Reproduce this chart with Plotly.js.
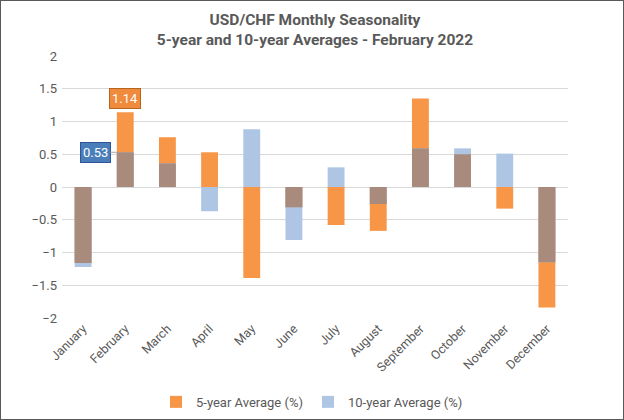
<!DOCTYPE html>
<html>
<head>
<meta charset="utf-8">
<script src="https://cdn.plot.ly/plotly-3.0.1.min.js"></script>
<style>
html,body{margin:0;padding:0;background:#fff;}
#wrap{width:624px;height:420px;box-sizing:border-box;border:1px solid #595959;overflow:hidden;}
#chart{width:622px;height:418px;}
</style>
</head>
<body>
<div id="wrap"><div id="chart"></div></div>
<script>
var months = ["January","February","March","April","May","June","July","August","September","October","November","December"];
var avg5 = [-1.16, 1.14, 0.76, 0.53, -1.39, -0.31, -0.58, -0.67, 1.35, 0.50, -0.33, -1.84];
var avg10 = [-1.22, 0.53, 0.36, -0.37, 0.88, -0.81, 0.30, -0.26, 0.59, 0.59, 0.51, -1.15];
var seriesNames = ["5-year Average (%)", "10-year Average (%)"];

var overlap = avg5.map(function(v, i){
  var w = avg10[i];
  if (v * w > 0) return Math.sign(v) * Math.min(Math.abs(v), Math.abs(w));
  return null;
});

var font = "Roboto, 'Liberation Sans', sans-serif";
var grey = "#595959";

var traces = [
  {type:"bar", x:months, y:avg5, name:seriesNames[0], marker:{color:"#F79646"}, hoverinfo:"skip"},
  {type:"bar", x:months, y:avg10, name:seriesNames[1], marker:{color:"#AEC6E4"}, hoverinfo:"skip"},
  {type:"bar", x:months, y:overlap, name:"overlap", showlegend:false, marker:{color:"#A88B7C"}, hoverinfo:"skip"}
];

var layout = {
  width:622, height:418,
  margin:{l:61, r:55, t:55, b:101},
  paper_bgcolor:"#fff", plot_bgcolor:"#fff",
  barmode:"overlay", bargap:0.6,
  font:{family:font, color:grey, size:12},
  title:{text:"<b>USD/CHF Monthly Seasonality</b><br><b>5-year and 10-year Averages - February 2022</b>",
         x:0.5, xanchor:"center", xref:"paper", yref:"container", y:0.943, yanchor:"middle",
         automargin:false, font:{family:font, size:15.5, color:grey}},
  xaxis:{type:"category", tickangle:-45, showgrid:false, showline:false, zeroline:false, ticks:"",
         tickfont:{size:12.5, color:grey}, fixedrange:true, automargin:false},
  yaxis:{range:[-2,2], dtick:0.5, tick0:0, showgrid:true, gridcolor:"#D9D9D9", gridwidth:1,
         zeroline:true, zerolinecolor:"#D9D9D9", zerolinewidth:1, showline:false, ticks:"",
         tickfont:{size:13, color:grey}, fixedrange:true, automargin:false, ticklabelstandoff:4},
  showlegend:true,
  legend:{orientation:"h", x:0.5, xanchor:"center", xref:"container", yref:"container", y:0.005, yanchor:"bottom",
          font:{size:13, color:grey}, traceorder:"normal", itemwidth:30},
  annotations:[
    {x:months[1], y:avg10[1], text:avg10[1].toFixed(2), showarrow:true, arrowhead:0, arrowwidth:1,
     arrowcolor:"#A6A6A6", ax:-30, ay:0, standoff:8, bgcolor:"#4A7EBB", bordercolor:"#2F5597",
     borderwidth:1, borderpad:2, font:{color:"#fff", size:13, family:font}},
    {x:months[1], y:avg5[1], text:avg5[1].toFixed(2), showarrow:false, yanchor:"bottom", yshift:3,
     bgcolor:"#F08A3C", bordercolor:"#B5651D", borderwidth:1, borderpad:2,
     font:{color:"#fff", size:13, family:font}}
  ]
};

Plotly.newPlot("chart", traces, layout, {displayModeBar:false, staticPlot:true});
</script>
</body>
</html>
